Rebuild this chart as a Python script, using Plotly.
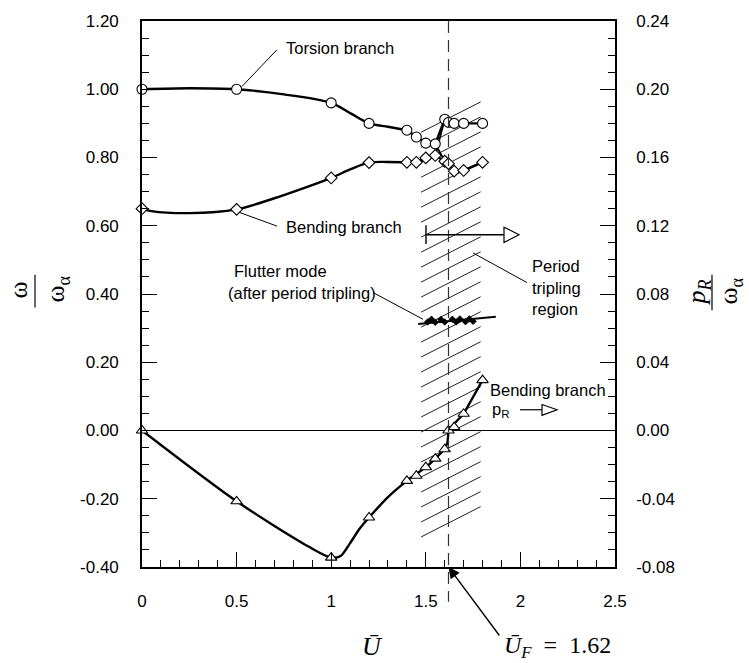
import plotly.graph_objects as go

# ---------------- data ----------------
# reduced velocity (marker stations)
u_pts = [0.0, 0.5, 1.0, 1.2, 1.4, 1.45, 1.5, 1.55, 1.6, 1.62, 1.65, 1.7, 1.8]

# torsion branch frequency ratio (circles)
torsion_w = [1.00, 1.00, 0.96, 0.90, 0.88, 0.86, 0.842, 0.84, 0.912, 0.903, 0.90, 0.90, 0.90]
# bending branch frequency ratio (diamonds)
bending_w = [0.65, 0.648, 0.74, 0.785, 0.786, 0.786, 0.799, 0.806, 0.789, 0.782, 0.76, 0.762, 0.786]
# bending branch damping p_R / omega_alpha (triangles, right axis)
bending_pr = [0.0, -0.0415, -0.0745, -0.051, -0.0295, -0.0265, -0.0215, -0.0165, -0.011, 0.0, 0.002, 0.0098, 0.0295]

# fitted curves
torsion_fit_u = [0.0, 0.25, 0.5, 0.75, 1.0, 1.1, 1.2, 1.3, 1.4]
torsion_fit_w = [1.00, 1.003, 1.00, 0.985, 0.96, 0.93, 0.90, 0.89, 0.88]
torsion_tail_u = [1.4, 1.45, 1.5, 1.55, 1.6, 1.62, 1.65, 1.7, 1.8]
torsion_tail_w = [0.88, 0.86, 0.842, 0.84, 0.912, 0.903, 0.90, 0.90, 0.90]

bending_fit_u = [0.0, 0.05, 0.25, 0.5, 0.75, 1.0, 1.1, 1.2, 1.3, 1.4]
bending_fit_w = [0.65, 0.643, 0.637, 0.648, 0.69, 0.74, 0.765, 0.785, 0.787, 0.786]
bending_tail_u = [1.4, 1.45, 1.5, 1.55, 1.6, 1.62, 1.65, 1.7, 1.8]
bending_tail_w = [0.786, 0.786, 0.799, 0.806, 0.789, 0.782, 0.76, 0.762, 0.786]

# branch exchange segments near flutter
cross_u = [1.55, 1.6, None, 1.55, 1.6]
cross_w = [0.84, 0.789, None, 0.806, 0.912]

pr_fit_u = [0.0, 0.5, 0.88, 1.0, 1.05, 1.1, 1.15, 1.2, 1.3, 1.4, 1.5, 1.55, 1.6]
pr_fit_v = [0.0, -0.0415, -0.068, -0.0745, -0.0735, -0.066, -0.0576, -0.051, -0.039, -0.0295, -0.0215, -0.0165, -0.011]
pr_tail_u = [1.6, 1.615, 1.62, 1.65, 1.7, 1.8]
pr_tail_v = [-0.011, -0.007, 0.0, 0.004, 0.0098, 0.0295]

# flutter mode after period tripling
flutter_u = [1.51, 1.53, 1.55, 1.58, 1.60, 1.64, 1.66, 1.68, 1.71, 1.73, 1.75]
flutter_w = [0.318, 0.326, 0.317, 0.325, 0.318, 0.326, 0.318, 0.327, 0.319, 0.327, 0.320]
flutter_fit_u = [1.46, 1.87]
flutter_fit_w = [0.312, 0.333]

u_flutter = 1.62
tripling_u = [1.475, 1.79]

x_ticks = [0, 0.5, 1, 1.5, 2, 2.5]
x_labels = ["0", "0.5", "1", "1.5", "2", "2.5"]
y_ticks = [1.2, 1.0, 0.8, 0.6, 0.4, 0.2, 0.0, -0.2, -0.4]
y_labels = ["1.20", "1.00", "0.80", "0.60", "0.40", "0.20", "0.00", "-0.20", "-0.40"]
y2_ticks = [0.24, 0.20, 0.16, 0.12, 0.08, 0.04, 0.0, -0.04, -0.08]
y2_labels = ["0.24", "0.20", "0.16", "0.12", "0.08", "0.04", "0.00", "-0.04", "-0.08"]

# ---------------- layout geometry ----------------
W, H = 749, 663
L, R, T, B = 142, 134, 16, 96
PW, PH = W - L - R, H - T - B


def fx(x):
    return (x - L) / PW


def fy(y):
    return (H - B - y) / PH


SANS = "Liberation Sans, Arial, Helvetica, sans-serif"
SERIF = "Liberation Serif, Times New Roman, serif"
INK = "black"

fig = go.Figure()

line_main = dict(color=INK, width=2.4)

fig.add_trace(go.Scatter(x=torsion_fit_u, y=torsion_fit_w, mode="lines",
                         line=dict(shape="spline", smoothing=0.9, **line_main)))
fig.add_trace(go.Scatter(x=torsion_tail_u, y=torsion_tail_w, mode="lines", line=line_main))
fig.add_trace(go.Scatter(x=bending_fit_u, y=bending_fit_w, mode="lines",
                         line=dict(shape="spline", smoothing=0.9, **line_main)))
fig.add_trace(go.Scatter(x=bending_tail_u, y=bending_tail_w, mode="lines", line=line_main))
fig.add_trace(go.Scatter(x=cross_u, y=cross_w, mode="lines", line=dict(color=INK, width=1.8)))

fig.add_trace(go.Scatter(x=pr_fit_u, y=pr_fit_v, mode="lines", yaxis="y2",
                         line=dict(shape="spline", smoothing=0.8, **line_main)))
fig.add_trace(go.Scatter(x=pr_tail_u, y=pr_tail_v, mode="lines", yaxis="y2", line=line_main))

fig.add_trace(go.Scatter(x=flutter_fit_u, y=flutter_fit_w, mode="lines",
                         line=dict(color=INK, width=2)))
fig.add_trace(go.Scatter(x=flutter_u, y=flutter_w, mode="markers",
                         marker=dict(symbol="diamond", size=5, color=INK,
                                     line=dict(color=INK, width=0.8))))

mk_line = dict(color=INK, width=1.1)
fig.add_trace(go.Scatter(x=u_pts, y=torsion_w, mode="markers", cliponaxis=False,
                         marker=dict(symbol="circle", size=10, color="white", line=mk_line)))
fig.add_trace(go.Scatter(x=u_pts, y=bending_w, mode="markers", cliponaxis=False,
                         marker=dict(symbol="diamond", size=9, color="white", line=mk_line)))
fig.add_trace(go.Scatter(x=u_pts, y=bending_pr, mode="markers", yaxis="y2", cliponaxis=False,
                         marker=dict(symbol="triangle-up", size=10, color="white", line=mk_line)))

shapes = []
# period tripling hatching
n_hatch = 28
y_lo, y_hi, rise = -0.312, 0.874, 0.089
step = (y_hi - y_lo) / (n_hatch - 1)
for i in range(n_hatch):
    y0 = y_lo + i * step
    shapes.append(dict(type="line", xref="x", yref="y", x0=tripling_u[0], x1=tripling_u[1],
                       y0=y0, y1=y0 + rise, line=dict(color="#222", width=1), layer="below"))

# zero line
shapes.append(dict(type="line", xref="paper", yref="y", x0=0, x1=1, y0=0, y1=0,
                   line=dict(color=INK, width=1), layer="below"))
# flutter speed
shapes.append(dict(type="line", xref="x", yref="paper", x0=u_flutter, x1=u_flutter,
                   y0=1.0, y1=fy(602), line=dict(color="#333", width=1.2, dash="12px,7px")))


def seg(x0, y0, x1, y1, w=1.0):
    shapes.append(dict(type="line", xref="paper", yref="paper", x0=fx(x0), y0=fy(y0),
                       x1=fx(x1), y1=fy(y1), line=dict(color=INK, width=w)))


def tri(pts, w=1.2):
    path = "M " + " L ".join(f"{fx(a):.5f},{fy(b):.5f}" for a, b in pts) + " Z"
    shapes.append(dict(type="path", xref="paper", yref="paper", path=path,
                       fillcolor="white", line=dict(color=INK, width=w)))


# leader lines
seg(277, 45, 242, 82)
seg(277, 223, 239, 209)
seg(373, 290, 423, 317)
seg(473, 250, 527, 280)
# tripling-region arrow
seg(426, 222, 426, 241, 1.4)
seg(426, 231.7, 504, 231.7, 1.4)
tri([(504, 224), (504, 239.5), (519, 231.7)])
# p_R arrow
seg(520, 408.3, 542, 408.3, 1.2)
tri([(542, 403), (542, 414), (557, 408.3)])
# fraction bars of the axis titles
seg(35, 272, 35, 305, 1.2)
seg(712, 272, 712, 308, 1.2)

annotations = []


def label(text, x, y, size=16.5, font=SANS, anchor="left", angle=0):
    annotations.append(dict(text=text, x=fx(x), y=fy(y), xref="paper", yref="paper",
                            xanchor=anchor, yanchor="middle", showarrow=False,
                            textangle=angle, font=dict(family=font, size=size, color=INK)))


label("Torsion branch", 284, 43)
label("Bending branch", 284, 224)
label("Flutter mode", 232, 268)
label("(after period tripling)", 226, 290)
label("Period", 530, 263)
label("tripling", 530, 285)
label("region", 530, 307)
label("Bending branch", 488, 388)
label("p<sub>R</sub>", 490, 409)

label("ω", 19, 288, size=26, font=SERIF, anchor="center", angle=-90)
label("ω<sub>α</sub>", 57, 287, size=26, font=SERIF, anchor="center", angle=-90)
label("<i>p</i><sub><i>R</i></sub>", 698, 290, size=26, font=SERIF, anchor="center", angle=-90)
label("ω<sub>α</sub>", 730, 289, size=26, font=SERIF, anchor="center", angle=-90)

label("<i>Ū</i>", 372, 647, size=26, font=SERIF, anchor="center")
label("<i>Ū</i><sub><i>F</i></sub>  =  1.62", 502, 648, size=24, font=SERIF)

annotations.append(dict(text="", x=u_flutter, y=-0.40, xref="x", yref="y",
                        ax=52, ay=70, showarrow=True, arrowhead=2, arrowsize=1.6,
                        arrowwidth=1.4, arrowcolor=INK))

tick_font = dict(family=SANS, size=17, color=INK)

fig.update_layout(
    width=W, height=H,
    margin=dict(l=L, r=R, t=T, b=B, pad=0),
    paper_bgcolor="white", plot_bgcolor="white",
    showlegend=False,
    shapes=shapes, annotations=annotations,
    xaxis=dict(range=[0, 2.5], tickvals=x_ticks, ticktext=x_labels,
               ticks="inside", ticklen=15, tickwidth=1.2, tickcolor=INK,
               minor=dict(ticks="inside", ticklen=7, dtick=0.1, tickwidth=1, tickcolor=INK),
               showline=True, linewidth=1.6, linecolor=INK, mirror=True,
               showgrid=False, zeroline=False, tickfont=tick_font, ticklabelstandoff=18),
    yaxis=dict(range=[-0.4, 1.2], tickvals=y_ticks, ticktext=y_labels,
               ticks="inside", ticklen=15, tickwidth=1.2, tickcolor=INK,
               minor=dict(ticks="inside", ticklen=7, dtick=0.05, tickwidth=1, tickcolor=INK),
               showline=True, linewidth=1.6, linecolor=INK,
               showgrid=False, zeroline=False, tickfont=tick_font, ticklabelstandoff=18),
    yaxis2=dict(range=[-0.08, 0.24], tickvals=y2_ticks, ticktext=y2_labels,
                overlaying="y", side="right",
                ticks="inside", ticklen=15, tickwidth=1.2, tickcolor=INK,
                minor=dict(ticks="inside", ticklen=7, dtick=0.01, tickwidth=1, tickcolor=INK),
                showline=True, linewidth=1.6, linecolor=INK,
                showgrid=False, zeroline=False, tickfont=tick_font, ticklabelstandoff=16),
)

fig.write_html("out.html")
